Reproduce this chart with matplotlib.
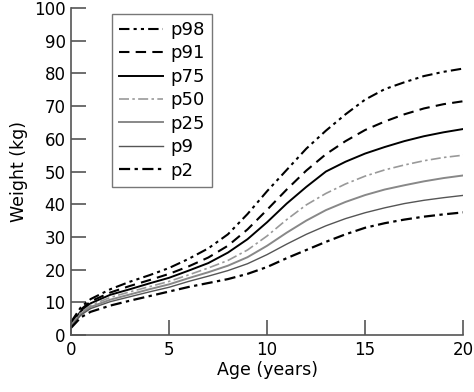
import numpy as np
import matplotlib
matplotlib.use("Agg")
from matplotlib import pyplot as plt


# Dados ------------------------------------------------>>>>>
idade = [0, 0.5, 1, 2, 3, 4, 5, 6, 7, 8, 9, 10, 11, 12, 13, 14, 15, 16, 17, 18, 19, 20]

p98 = [4, 8.5, 11, 14, 16.3, 18.3, 20.5, 23.3, 26.5, 30.8, 37, 44, 50.5, 57, 62.5, 67.5, 72, 75.2, 77.3, 79.2, 80.5, 81.5]
p91 = [3.6, 7.8, 10.3, 13, 15, 16.8, 18.7, 21, 23.7, 27.3, 32.3, 38.3, 44.5, 50.3, 55.3, 59.3, 62.7, 65.3, 67.5, 69.3, 70.6, 71.5]
p75 = [3.3, 7.3, 9.7, 12.3, 14, 15.8, 17.5, 19.7, 22, 25.2, 29.3, 34.5, 40.2, 45.3, 50, 53, 55.5, 57.5, 59.3, 60.8, 62, 63]
p50 = [3, 6.9, 9.1, 11.5, 13.2, 14.8, 16.4, 18.4, 20.5, 22.8, 26, 30.3, 35.3, 39.8, 43.3, 46.2, 48.6, 50.5, 52, 53.3, 54.3, 55]
p25 = [2.8, 6.5, 8.6, 10.8, 12.4, 14, 15.5, 17.4, 19.2, 21.2, 23.8, 27.3, 31.3, 35, 38.2, 40.7, 42.8, 44.5, 45.8, 47, 48, 48.8]
p9 = [2.6, 6.1, 8.1, 10.2, 11.7, 13.2, 14.6, 16.4, 18, 19.7, 21.8, 24.6, 27.8, 30.8, 33.4, 35.6, 37.4, 38.9, 40.2, 41.2, 42, 42.7]
p2 = [2.2, 5.4, 7.1, 9, 10.5, 11.9, 13.3, 14.7, 15.9, 17.1, 18.7, 20.8, 23.5, 26, 28.5, 30.8, 32.8, 34.2, 35.3, 36.2, 36.9, 37.5]

nomes = ['p98', 'p91', 'p75', 'p50', 'p25', 'p9', 'p2']
x_ticks = [0, 5, 10, 15, 20]
y_ticks = [0, 10, 20, 30, 40, 50, 60, 70, 80, 90, 100]


# Figura ----------------------------->>>>>
plt.rcParams['font.family'] = ['DejaVu Sans']
fig = plt.figure(figsize=(4.74, 3.92), dpi=100)
ax = fig.add_axes([0.15, 0.1454, 0.827, 0.834])

# Estilos das curvas:
ax.plot(idade, p98, color='black', lw=1.5, dashes=[5, 2, 1.5, 2, 1.5, 2], label=nomes[0])
ax.plot(idade, p91, color='black', lw=1.5, dashes=[5, 3], label=nomes[1])
ax.plot(idade, p75, color='black', lw=1.4, label=nomes[2])
ax.plot(idade, p50, color='#999999', lw=1.2, dashes=[6, 2, 1.5, 2], label=nomes[3])
ax.plot(idade, p25, color='#888888', lw=1.4, label=nomes[4])
ax.plot(idade, p9, color='#555555', lw=1.0, label=nomes[5])
ax.plot(idade, p2, color='black', lw=1.6, dashes=[5, 2, 1.5, 2], label=nomes[6])

# Eixos:
ax.set_xlim(0, 20)
ax.set_ylim(0, 100)
ax.set_xticks(x_ticks)
ax.set_yticks(y_ticks)
ax.spines['top'].set_visible(False)
ax.spines['right'].set_visible(False)
for lado in ['left', 'bottom']:
    ax.spines[lado].set_color('#555555')
    ax.spines[lado].set_linewidth(1.2)
ax.tick_params(direction='in', length=11, width=1.2, color='#555555',
               labelsize=12, pad=4)
ax.set_xlabel('Age (years)', fontsize=12.5, labelpad=2)
ax.set_ylabel('Weight (kg)', fontsize=12.5, labelpad=4)

# Legenda:
leg = ax.legend(loc='upper left', bbox_to_anchor=(0.082, 1.01), fontsize=13,
                frameon=True, fancybox=False, edgecolor='#555555',
                handlelength=2.4, labelspacing=0.3, borderpad=0.4,
                handletextpad=0.4)
leg.get_frame().set_linewidth(1.0)

plt.savefig('out.png', dpi=100)
